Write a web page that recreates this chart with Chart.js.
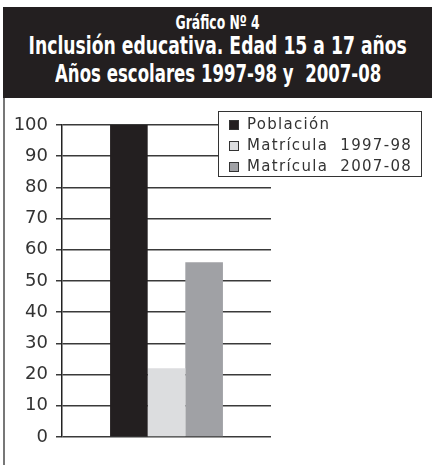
<!DOCTYPE html>
<html>
<head>
<meta charset="utf-8">
<script src="https://cdn.jsdelivr.net/npm/chart.js@4.4.0/dist/chart.umd.min.js"></script>
<style>
    body { margin: 0; width: 432px; height: 465px; background: #fff; position: relative; overflow: hidden; }
    #header {
        position: absolute; left: 3px; top: 7px; width: 429px; height: 91px; overflow: hidden;
        background: #231f20; color: #fff;
        font-family: 'DejaVu Sans', sans-serif; font-weight: bold;
    }
    #header div { white-space: pre; text-align: left; }
    #header span { display: inline-block; transform-origin: center; }
    #header .l1 { font-size: 19px; line-height: 19px; padding-top: 6px; }
    #header .l2, #header .l3 { font-size: 24px; line-height: 28px; }
    #frame { position: absolute; left: 3px; top: 98px; width: 2px; height: 367px; background: #777; }
    #wrap { position: absolute; left: 0; top: 98px; width: 432px; height: 367px; }
</style>
</head>
<body>
<div id="header">
    <div class="l1"><span data-w="84">Gráfico Nº 4</span></div>
    <div class="l2"><span data-w="378">Inclusión educativa. Edad 15 a 17 años</span></div>
    <div class="l3"><span data-w="326">Años escolares 1997-98 y  2007-08</span></div>
</div>
<div id="frame"></div>
<div id="wrap"><canvas id="chart"></canvas></div>
<script>
// data
const categories = [''];
const seriesNames = ['Población', 'Matrícula  1997-98', 'Matrícula  2007-08'];
const poblacion = [100];
const matricula9798 = [22];
const matricula0708 = [56];
const yTicks = [0, 10, 20, 30, 40, 50, 60, 70, 80, 90, 100];

const colors = ['#231f20', '#dcdddf', '#a0a1a5'];
const fontFamily = "'DejaVu Sans', sans-serif";

// squeeze the header lines into a condensed look, centred in the black band
const headerWidth = 429;
document.querySelectorAll('#header span').forEach(span => {
    const target = Number(span.dataset.w);
    const natural = span.offsetWidth;
    span.style.marginLeft = ((headerWidth - natural) / 2) + 'px';
    span.style.transform = `scaleX(${target / natural})`;
});

// legend drawn inside the plot, overlapping the grid like the original
const boxLegend = {
    id: 'boxLegend',
    afterDraw(chart) {
        const ctx = chart.ctx;
        const x = 218, y = 13, w = 203, h = 65;
        ctx.save();
        ctx.fillStyle = '#fff';
        ctx.fillRect(x, y, w, h);
        ctx.strokeStyle = '#333';
        ctx.lineWidth = 1;
        ctx.strokeRect(x + 0.5, y + 0.5, w, h);
        ctx.font = '15px ' + fontFamily;
        ctx.letterSpacing = '1.3px';
        ctx.textBaseline = 'middle';
        chart.data.datasets.forEach((ds, i) => {
            const cy = y + 14 + i * 21;
            ctx.fillStyle = ds.backgroundColor;
            ctx.fillRect(x + 11, cy - 5, 10, 10);
            ctx.strokeStyle = '#333';
            ctx.strokeRect(x + 11.5, cy - 4.5, 9, 9);
            ctx.fillStyle = '#333';
            ctx.fillText(ds.label, x + 29, cy);
        });
        ctx.restore();
    }
};

new Chart(document.getElementById('chart'), {
    type: 'bar',
    data: {
        labels: categories,
        datasets: [
            { label: seriesNames[0], data: poblacion, backgroundColor: colors[0] },
            { label: seriesNames[1], data: matricula9798, backgroundColor: colors[1] },
            { label: seriesNames[2], data: matricula0708, backgroundColor: colors[2] }
        ]
    },
    options: {
        responsive: true,
        maintainAspectRatio: false,
        animation: false,
        layout: { padding: { top: 27, right: 161, bottom: 28, left: 0 } },
        datasets: { bar: { barPercentage: 1, categoryPercentage: 0.54 } },
        scales: {
            x: { display: false },
            y: {
                min: 0,
                max: 100,
                afterFit: (scale) => { scale.width = 62; },
                afterBuildTicks: (scale) => { scale.ticks = yTicks.map(v => ({ value: v })); },
                border: { color: '#222', width: 1.5 },
                grid: { color: '#3a3a3a', lineWidth: 1.5, tickLength: 6 },
                ticks: {
                    padding: 8,
                    color: '#333',
                    font: { size: 18, family: fontFamily }
                }
            }
        },
        plugins: {
            legend: { display: false },
            tooltip: { enabled: false }
        }
    },
    plugins: [boxLegend]
});
</script>
</body>
</html>
